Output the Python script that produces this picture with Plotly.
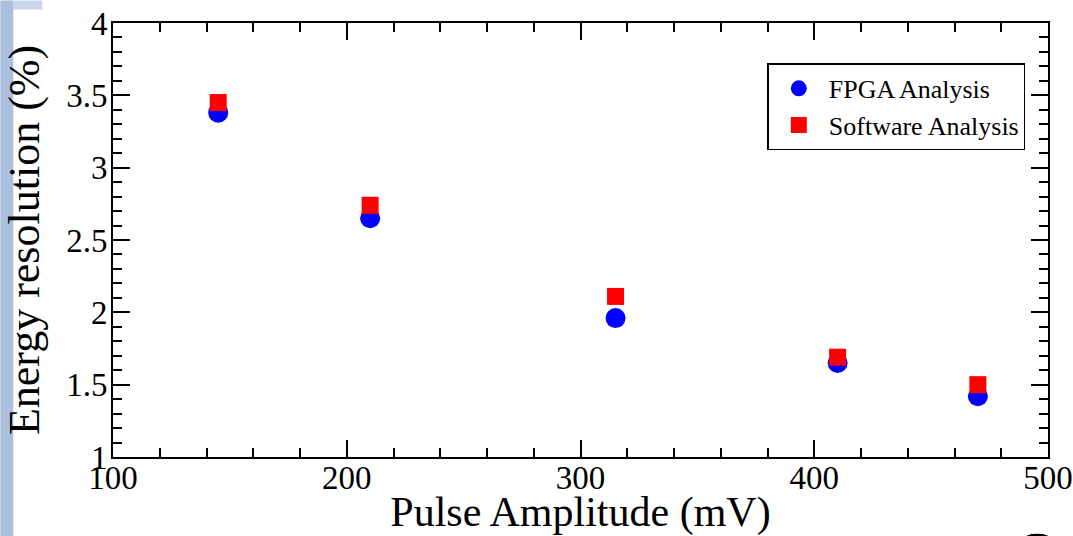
import plotly.graph_objects as go

# Data
pulse_amplitude = [145, 210, 315, 410, 470]
fpga_resolution = [3.38, 2.65, 1.96, 1.65, 1.42]
software_resolution = [3.45, 2.74, 2.11, 1.69, 1.50]

x_range = [100, 500]
y_range = [1, 4]

FONT = "Liberation Serif"

fig = go.Figure()
fig.add_trace(go.Scatter(
    x=pulse_amplitude, y=fpga_resolution, mode="markers", name="FPGA Analysis",
    legendgroup="a",
    marker=dict(symbol="circle", size=20, color="#0000ff", line=dict(width=0)),
))
fig.add_trace(go.Scatter(
    x=pulse_amplitude, y=software_resolution, mode="markers", name="Software Analysis",
    legendgroup="b",
    marker=dict(symbol="square", size=17, color="#ff0000", line=dict(width=0)),
))

L, R, T, B = 112.7, 1047.7, 22.5, 457.5
W, H = 1073, 536
pw, ph = R - L, B - T

def px(xp):
    return (xp - L) / pw

def py(yp):
    return (B - yp) / ph

shapes = [
    dict(type="rect", xref="paper", yref="paper", x0=px(0), x1=px(13), y0=py(W), y1=py(0),
         fillcolor="#adbfdf", line=dict(width=0), layer="below"),
    dict(type="rect", xref="paper", yref="paper", x0=px(13), x1=px(42), y0=py(9), y1=py(0),
         fillcolor="#c9d5ea", line=dict(width=0), layer="below"),
]

fig.update_layout(
    width=W, height=H,
    margin=dict(l=L, r=W - R, t=T, b=H - B, autoexpand=False),
    paper_bgcolor="white", plot_bgcolor="white",
    font=dict(family=FONT, color="black"),
    shapes=shapes,
    showlegend=True,
    legend=dict(
        x=px(767), y=py(63), xanchor="left", yanchor="top",
        bgcolor="white", bordercolor="black", borderwidth=1.5,
        font=dict(family=FONT, size=26, color="black"),
        itemwidth=50, tracegroupgap=0,
    ),
    annotations=[
        dict(text="(", xref="paper", yref="paper", x=px(1040), y=py(540),
             showarrow=False, textangle=90, font=dict(family=FONT, size=42, color="black"),
             xanchor="center", yanchor="middle"),
    ],
)

axis_common = dict(
    ticks="inside", tickcolor="black", tickwidth=1.5,
    showline=True, linecolor="black", linewidth=2, mirror="allticks",
    showgrid=False, zeroline=False, automargin=False,
    tickfont=dict(family=FONT, size=33, color="black"),
)

fig.update_xaxes(
    range=x_range, tick0=100, dtick=100, ticklen=17, ticklabelstandoff=-10,
    minor=dict(dtick=20, ticks="inside", ticklen=9, tickcolor="black", tickwidth=1.5),
    title=dict(text="Pulse Amplitude (mV)", font=dict(family=FONT, size=42, color="black")),
    **axis_common,
)
fig.update_yaxes(
    range=y_range, tick0=1, dtick=0.5, ticklen=17, ticklabelstandoff=-3,
    minor=dict(dtick=0.1, ticks="inside", ticklen=9, tickcolor="black", tickwidth=1.5),
    title=dict(text="Energy resolution (%)", font=dict(family=FONT, size=44, color="black")),
    **axis_common,
)

fig.write_html("out.html")
